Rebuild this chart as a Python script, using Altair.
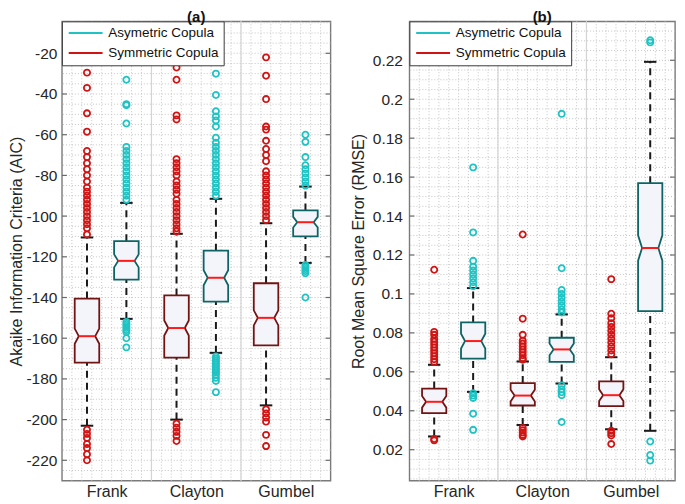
import altair as alt
import pandas as pd

categories = ["Frank", "Clayton", "Gumbel"]
groups = ["Symmetric Copula", "Asymetric Copula"]
legend_order = ["Asymetric Copula", "Symmetric Copula"]

# ---------------- Panel (a): AIC ----------------
aic_sym_lw = [-203.0, -200.0, -193.0]
aic_sym_q1 = [-172.0, -169.5, -163.5]
aic_sym_med = [-159.0, -155.0, -150.0]
aic_sym_q3 = [-140.5, -139.0, -133.0]
aic_sym_uw = [-110.5, -108.7, -103.5]
aic_sym_notch = [3.7, 3.7, 3.7]
aic_asy_lw = [-150.5, -167.2, -123.0]
aic_asy_q1 = [-131.2, -142.0, -110.0]
aic_asy_med = [-122.0, -130.3, -103.0]
aic_asy_q3 = [-112.3, -117.0, -97.2]
aic_asy_uw = [-93.5, -91.5, -85.5]
aic_asy_notch = [3.2, 3.7, 2.6]

aic_sym_out = [
    [-29.5, -37, -49.5, -58.5, -68, -71, -74, -77, -80, -83, -86, -88, -90, -92, -94, -96,
     -98, -100, -102, -104, -106, -109, -205, -207, -209, -212, -214, -217, -220],
    [-27, -33, -50.5, -52.5, -72, -74, -76, -78, -80, -83, -85, -87, -89, -92, -94, -96,
     -98, -100, -102, -104, -106, -107.5, -202, -204, -206, -208, -210.5],
    [-22, -31, -42.5, -56, -57.5, -63, -67, -70, -73, -78, -80, -82, -84, -86, -88, -90,
     -92, -94, -96, -98, -100, -102, -195, -197, -199, -201, -207.5, -213],
]
aic_asy_out = [
    [-33, -45, -45.5, -54.5, -66, -68, -70, -72, -74, -76, -78, -80, -82, -84, -86, -88,
     -90, -92, -152, -153, -154, -155, -156, -157, -160, -164.5],
    [-30, -40.5, -48.5, -51, -53, -56, -61.5, -64, -66, -68, -70, -72, -74, -76, -78, -80,
     -82, -84, -86, -88, -90, -169, -170, -171, -172, -173, -174, -175, -176, -177, -178,
     -179.5, -181, -186.5],
    [-60, -63.5, -71, -75, -77, -79, -81, -83, -85, -124, -125, -126, -127, -128, -140],
]
aic_ticks = [-220, -200, -180, -160, -140, -120, -100, -80, -60, -40, -20]

# ---------------- Panel (b): RMSE ----------------
rmse_sym_lw = [0.0268, 0.0327, 0.0305]
rmse_sym_q1 = [0.0388, 0.0427, 0.0424]
rmse_sym_med = [0.0446, 0.0478, 0.0480]
rmse_sym_q3 = [0.0514, 0.0542, 0.0551]
rmse_sym_uw = [0.0636, 0.0653, 0.0675]
rmse_sym_notch = [0.0030, 0.0030, 0.0030]
rmse_asy_lw = [0.0497, 0.0540, 0.0297]
rmse_asy_q1 = [0.0668, 0.0651, 0.0912]
rmse_asy_med = [0.0758, 0.0715, 0.1236]
rmse_asy_q3 = [0.0854, 0.0775, 0.1569]
rmse_asy_uw = [0.1030, 0.0895, 0.2192]
rmse_asy_notch = [0.0038, 0.0030, 0.0065]

rmse_sym_out = [
    [0.1124, 0.0805, 0.079, 0.077, 0.0755, 0.074, 0.0725, 0.071, 0.0695, 0.068, 0.0665,
     0.065, 0.0255, 0.0248],
    [0.1305, 0.0873, 0.079, 0.076, 0.0745, 0.073, 0.0715, 0.070, 0.0685, 0.067, 0.0662,
     0.0312, 0.030, 0.0288, 0.0276, 0.0268],
    [0.1076, 0.0898, 0.0875, 0.085, 0.083, 0.081, 0.079, 0.077, 0.075, 0.073, 0.071,
     0.069, 0.0297, 0.0285, 0.0273, 0.0229],
]
rmse_asy_out = [
    [0.165, 0.1316, 0.117, 0.114, 0.112, 0.110, 0.108, 0.106, 0.104, 0.049, 0.0478,
     0.0466, 0.0385, 0.0302],
    [0.1925, 0.1132, 0.102, 0.100, 0.098, 0.096, 0.094, 0.092, 0.0905, 0.053, 0.051,
     0.0495, 0.048, 0.0342],
    [0.2303, 0.2292, 0.0242, 0.0173, 0.0144],
]
rmse_ticks = [0.02, 0.04, 0.06, 0.08, 0.1, 0.12, 0.14, 0.16, 0.18, 0.2, 0.22]

# ---------------- style ----------------
FONT = "Liberation Sans"
OUT_COLORS = ["#1fc3c3", "#d01414"]      # Asymetric, Symmetric
EDGE = {"Symmetric Copula": "#731414", "Asymetric Copula": "#0e6464"}
BOX_FILL = "#f4f4fb"
GRID = "#c4c4c4"
SEP = "#d4d4d4"
OFFS = [-0.22, 0.22]
BOX_HW = 0.137
NOTCH_IN = 0.045
CAP_HW = 0.07
H = 460
PT_SIZE = 38


def panel(stats, outs, ydom, yticks, ystep, ytitle, title, width, lab_pad, tit_pad):
    boxes, area, pts = [], [], []
    for gi, g in enumerate(groups):
        lw, q1, med, q3, uw, notch = stats[gi]
        for ci in range(len(categories)):
            p = ci + OFFS[gi]
            bid = f"{g}-{ci}"
            boxes.append(dict(box=bid, grp=g, pos=p, lw=lw[ci], q1=q1[ci], med=med[ci],
                              q3=q3[ci], uw=uw[ci],
                              ml=p - BOX_HW + NOTCH_IN, mr=p + BOX_HW - NOTCH_IN,
                              cl=p - CAP_HW, cr=p + CAP_HW))
            n = notch[ci]
            for yv, ind in [(q1[ci], 0), (med[ci] - n, 0), (med[ci], NOTCH_IN),
                            (med[ci] + n, 0), (q3[ci], 0)]:
                area.append(dict(box=bid, grp=g, y=yv, xl=p - BOX_HW + ind,
                                 xr=p + BOX_HW - ind))
            for v in outs[gi][ci]:
                pts.append(dict(grp=g, pos=p, v=v))
    bdf, adf, pdf = pd.DataFrame(boxes), pd.DataFrame(area), pd.DataFrame(pts)

    xs = alt.Scale(domain=[-0.5, len(categories) - 0.5], nice=False, zero=False)
    ys = alt.Scale(domain=ydom, nice=False, zero=False)
    label_expr = "[" + ",".join(f"'{c}'" for c in categories) + "][datum.value]"
    xaxis = alt.Axis(values=list(range(len(categories))), labelExpr=label_expr, title=None,
                     grid=False, ticks=False, domain=False, labelFont=FONT, labelFontSize=16,
                     labelColor="#262626", labelPadding=3, labelAngle=0)
    yaxis = alt.Axis(values=yticks, labelExpr="'' + datum.value", title=ytitle, grid=False,
                     ticks=False, domain=False, labelFont=FONT, labelFontSize=15.5,
                     labelColor="#262626", labelPadding=lab_pad, titleFont=FONT,
                     titleFontSize=16, titleFontWeight="normal", titleColor="#262626",
                     titlePadding=tit_pad)

    # dotted grid (major + minor)
    ng = int(round((ydom[1] - ydom[0]) / ystep)) + 2
    k0 = int(ydom[0] // ystep) + 1
    gy = [round((k0 + i) * ystep, 6) for i in range(ng) if (k0 + i) * ystep < ydom[1]]
    gx = [-0.5 + k / 9 for k in range(1, 9 * len(categories))]
    gridy = alt.Chart(pd.DataFrame({"v": gy})).mark_rule(
        color=GRID, strokeDash=[1, 2], strokeWidth=1).encode(y=alt.Y("v:Q", scale=ys, axis=yaxis))
    gridx = alt.Chart(pd.DataFrame({"v": gx})).mark_rule(
        color=GRID, strokeDash=[1, 2], strokeWidth=1).encode(x=alt.X("v:Q", scale=xs, axis=xaxis))
    seps = alt.Chart(pd.DataFrame({"v": [i + 0.5 for i in range(len(categories) - 1)]})).mark_rule(
        color=SEP, strokeWidth=1.2).encode(x=alt.X("v:Q", scale=xs))

    base = alt.Chart(bdf)
    wh_up = base.mark_rule(color="#1a1a1a", strokeWidth=2, strokeDash=[7, 5]).encode(
        x=alt.X("pos:Q", scale=xs), y=alt.Y("q3:Q", scale=ys), y2="uw:Q")
    wh_lo = base.mark_rule(color="#1a1a1a", strokeWidth=2, strokeDash=[7, 5]).encode(
        x=alt.X("pos:Q", scale=xs), y=alt.Y("lw:Q", scale=ys), y2="q1:Q")
    cap_up = base.mark_rule(color="#1a1a1a", strokeWidth=2).encode(
        x=alt.X("cl:Q", scale=xs), x2="cr:Q", y=alt.Y("uw:Q", scale=ys))
    cap_lo = base.mark_rule(color="#1a1a1a", strokeWidth=2).encode(
        x=alt.X("cl:Q", scale=xs), x2="cr:Q", y=alt.Y("lw:Q", scale=ys))
    box_layers = []
    for g in groups:
        box_layers.append(
            alt.Chart(adf[adf["grp"] == g]).mark_area(
                orient="horizontal", fill=BOX_FILL, fillOpacity=1, stroke=EDGE[g],
                strokeWidth=1.8, interpolate="linear").encode(
                y=alt.Y("y:Q", scale=ys), x=alt.X("xl:Q", scale=xs), x2="xr:Q",
                detail="box:N"))
    med_l = base.mark_rule(color="#ff1a1a", strokeWidth=2).encode(
        x=alt.X("ml:Q", scale=xs), x2="mr:Q", y=alt.Y("med:Q", scale=ys))
    out_l = alt.Chart(pdf).mark_point(filled=False, size=PT_SIZE, strokeWidth=1.8,
                                      opacity=1).encode(
        x=alt.X("pos:Q", scale=xs), y=alt.Y("v:Q", scale=ys),
        color=alt.Color("grp:N", scale=alt.Scale(domain=legend_order, range=OUT_COLORS),
                        legend=alt.Legend(title=None, orient="top-left", offset=0,
                                          symbolType="M-5.5,0H5.5", symbolSize=PT_SIZE,
                                          symbolStrokeWidth=2, symbolOffset=12,
                                          labelFont=FONT, labelFontSize=13.5,
                                          labelColor="#111111", fillColor="white",
                                          strokeColor="#3a3a3a", padding=5, rowPadding=5,
                                          labelOffset=16)))
    tdf = pd.DataFrame({"v": yticks})
    tick_l = alt.Chart(tdf).mark_rule(color="#6a6a6a", strokeWidth=1.2).encode(
        y=alt.Y("v:Q", scale=ys), x=alt.value(0), x2=alt.value(5))
    tick_r = alt.Chart(tdf).mark_rule(color="#6a6a6a", strokeWidth=1.2).encode(
        y=alt.Y("v:Q", scale=ys), x=alt.value(width - 5), x2=alt.value(width))

    return alt.layer(gridy, gridx, seps, wh_up, wh_lo, cap_up, cap_lo, *box_layers, med_l,
                     out_l, tick_l, tick_r).properties(
        width=width, height=H,
        title=alt.TitleParams(title, font=FONT, fontSize=15, fontWeight="bold",
                              color="#111111", anchor="middle", frame="group", offset=-4))


left = panel(
    [(aic_sym_lw, aic_sym_q1, aic_sym_med, aic_sym_q3, aic_sym_uw, aic_sym_notch),
     (aic_asy_lw, aic_asy_q1, aic_asy_med, aic_asy_q3, aic_asy_uw, aic_asy_notch)],
    [aic_sym_out, aic_asy_out], [-230, -4.3], aic_ticks, 5,
    "Akaike Information Criteria (AIC)", "(a)", 269, 5, 1)
right = panel(
    [(rmse_sym_lw, rmse_sym_q1, rmse_sym_med, rmse_sym_q3, rmse_sym_uw, rmse_sym_notch),
     (rmse_asy_lw, rmse_asy_q1, rmse_asy_med, rmse_asy_q3, rmse_asy_uw, rmse_asy_notch)],
    [rmse_sym_out, rmse_asy_out], [0.0041, 0.2400], rmse_ticks, 0.005,
    "Root Mean Square Error (RMSE)", "(b)", 266, 7, 6)

chart = alt.hconcat(left, right, spacing=17).resolve_scale(
    color="independent").resolve_legend(color="independent").properties(
    padding=0, background="white").configure_view(stroke="#7a7a7a", strokeWidth=1.4)

chart.save("out.html", embed_options={"renderer": "svg", "actions": False})
